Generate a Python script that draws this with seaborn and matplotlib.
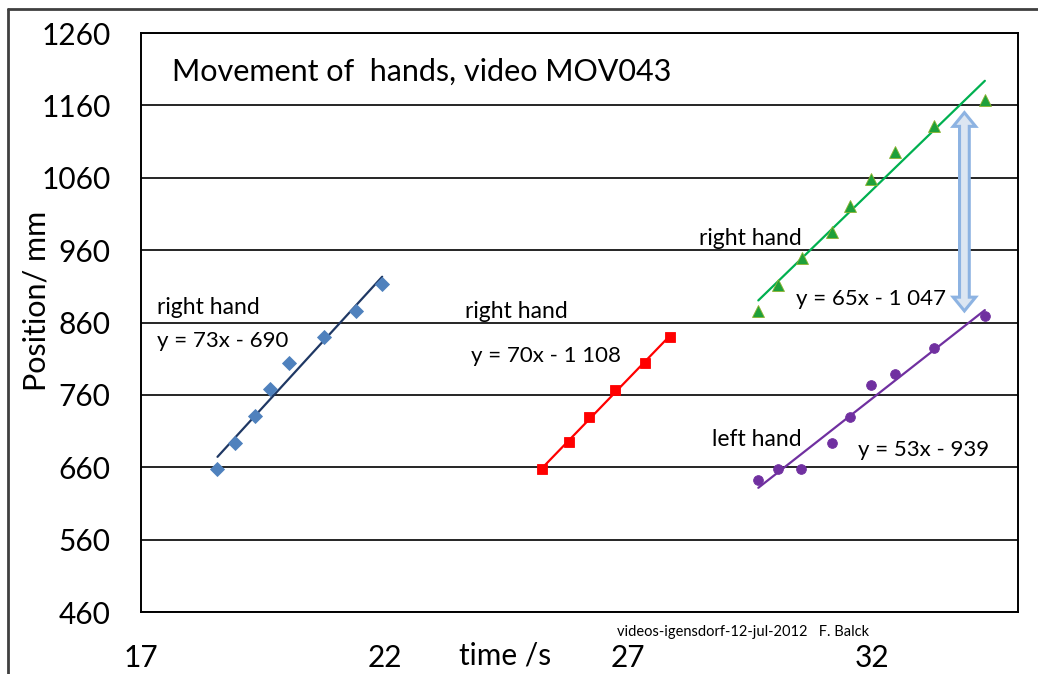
import numpy as np
import pandas as pd
import matplotlib
matplotlib.use('Agg')
import matplotlib.pyplot as plt
import seaborn as sns
from matplotlib.patches import Polygon
from matplotlib.lines import Line2D

# data (time in s, position in mm)
blue_t = [18.57, 18.93, 19.33, 19.64, 20.03, 20.76, 21.41, 21.95]
blue_mm = [657, 694, 731, 768, 804, 840, 876, 913]

red_t = [25.23, 25.79, 26.20, 26.72, 27.35, 27.85]
red_mm = [657, 695, 730, 767, 804, 840]

green_t = [29.67, 30.08, 30.56, 31.19, 31.56, 31.99, 32.47, 33.28, 34.32]
green_mm = [876, 912, 949, 985, 1021, 1058, 1095, 1131, 1168]

purple_t = [29.67, 30.08, 30.54, 31.19, 31.55, 31.99, 32.47, 33.28, 34.32]
purple_mm = [643, 657, 657, 694, 730, 774, 789, 825, 869]

x_ticks = [17, 22, 27, 32]
y_ticks = [460, 560, 660, 760, 860, 960, 1060, 1160, 1260]

title = 'Movement of  hands, video MOV043'
labels_hand = ['right hand', 'right hand', 'right hand', 'left hand']
labels_eq = ['y = 73x - 690', 'y = 70x - 1 108', 'y = 65x - 1 047', 'y = 53x - 939']
footer = 'videos-igensdorf-12-jul-2012   F. Balck'

sns.set_style('white')
plt.rcParams['font.family'] = ['Lato', 'DejaVu Sans']
plt.rcParams['text.color'] = 'black'
plt.rcParams['axes.labelcolor'] = 'black'

fig = plt.figure(figsize=(10.38, 6.74), dpi=100)
ax = fig.add_axes([141/1038, 1-612/674, (1018-141)/1038, (612-33)/674])

series = [
    (blue_t, blue_mm, '#4F81BD', 'D', 7, '#1F3864'),
    (red_t, red_mm, '#FF0000', 's', 7, '#FF0000'),
    (green_t, green_mm, '#1EA03A', '^', 9, '#00B050'),
    (purple_t, purple_mm, '#7030A0', 'o', 7, '#7030A0'),
]

for t, mm, col, mk, ms, lcol in series:
    df = pd.DataFrame({'t': t, 'mm': mm})
    sns.regplot(data=df, x='t', y='mm', ax=ax, ci=None, scatter=False,
                line_kws={'color': lcol, 'lw': 1.6, 'zorder': 3})
    ax.plot(df['t'], df['mm'], linestyle='none', marker=mk, markersize=ms,
            color=col, markeredgecolor=col if mk != '^' else '#8DB32F',
            markeredgewidth=0.6, zorder=4)

ax.set_xlim(17, 35)
ax.set_ylim(460, 1260)
ax.set_xticks(x_ticks)
ax.set_yticks(y_ticks)
ax.grid(axis='y', color='black', lw=1.2)
ax.grid(axis='x', visible=False)
ax.set_axisbelow(True)
for s in ax.spines.values():
    s.set_color('black')
    s.set_linewidth(1.4)
ax.tick_params(axis='both', direction='out', length=10, width=1.2,
               colors='black', labelsize=21.5)
ax.tick_params(axis='x', pad=13)
ax.tick_params(axis='y', pad=12)
ax.set_xlabel('')
ax.set_ylabel('Position/ mm', fontsize=22)
ax.yaxis.set_label_coords(-(141-51)/877, 1-(301-33)/579)

# chart texts
ax.text(17.64, 1206, title, fontsize=22, va='center', ha='left')
hand_pos = [(17.33, 881), (23.66, 875), (28.46, 976), (28.71, 698)]
eq_pos = [(17.33, 835), (23.77, 814), (30.45, 893), (31.72, 684)]
for (x, y), s in zip(hand_pos, labels_hand):
    ax.text(x, y, s, fontsize=16.5, va='center', ha='left')
for (x, y), s in zip(eq_pos, labels_eq):
    ax.text(x, y, s, fontsize=16, va='center', ha='left')

fig.text(459/1038, 1-655/674, 'time /s', fontsize=21.5, va='center', ha='left')
fig.text(617/1038, 1-632/674, footer, fontsize=10.5, va='center', ha='left')

# hollow double arrow between the two hands
xc, y0, y1 = 33.9, 876, 1150
sw, hw, hl = 0.10, 0.23, 19
verts = [(xc, y0), (xc + hw, y0 + hl), (xc + sw, y0 + hl), (xc + sw, y1 - hl),
         (xc + hw, y1 - hl), (xc, y1), (xc - hw, y1 - hl), (xc - sw, y1 - hl),
         (xc - sw, y0 + hl), (xc - hw, y0 + hl)]
ax.add_patch(Polygon(verts, closed=True, facecolor='#DCE6F2',
                     edgecolor='#8DB3E2', lw=2.2, zorder=5))

# outer frame of the pasted picture
fig.add_artist(Line2D([8/1038, 1], [1-9/674, 1-9/674], color='#404040', lw=2))
fig.add_artist(Line2D([8/1038, 8/1038], [1-9/674, 0], color='#404040', lw=2))

fig.savefig('out.png', dpi=100)
